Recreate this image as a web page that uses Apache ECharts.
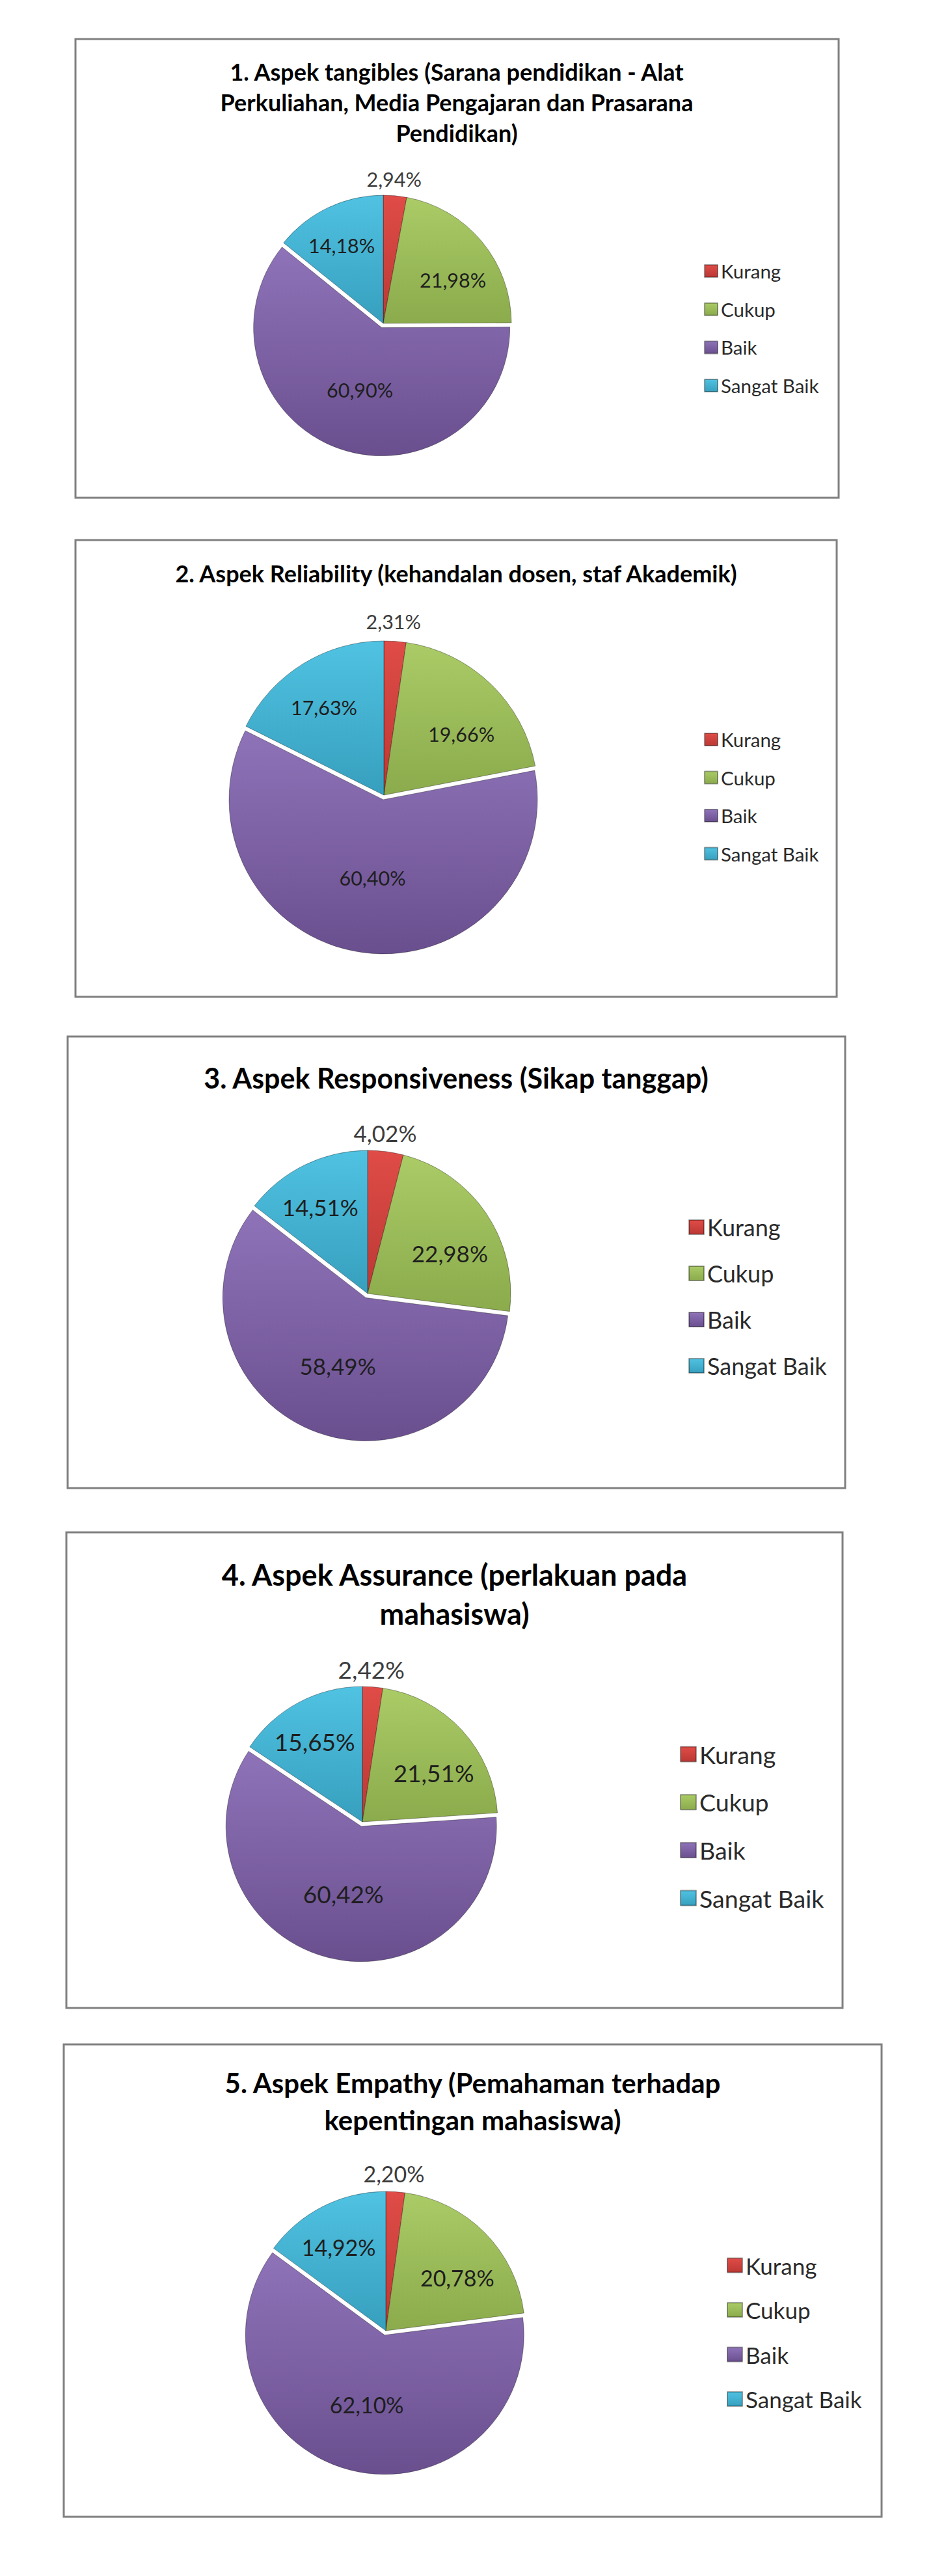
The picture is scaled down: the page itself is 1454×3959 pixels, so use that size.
<!DOCTYPE html>
<html>
<head>
<meta charset="utf-8">
<script src="https://cdn.jsdelivr.net/npm/echarts@6/dist/echarts.min.js"></script>
<style>
  html, body { margin: 0; padding: 0; background: #ffffff; }
  #chart { width: 1454px; height: 3959px; }
</style>
</head>
<body>
<div id="chart"></div>
<script>
// ---------------- DATA ----------------
const categories = ['Kurang', 'Cukup', 'Baik', 'Sangat Baik'];
const aspek1 = [2.94, 21.98, 60.90, 14.18];
const aspek2 = [2.31, 19.66, 60.40, 17.63];
const aspek3 = [4.02, 22.98, 58.49, 14.51];
const aspek4 = [2.42, 21.51, 60.42, 15.65];
const aspek5 = [2.20, 20.78, 62.10, 14.92];
const chartTitles = [
  '1. Aspek tangibles (Sarana pendidikan - Alat\nPerkuliahan, Media Pengajaran dan Prasarana\nPendidikan)',
  '2. Aspek Reliability (kehandalan dosen, staf Akademik)',
  '3. Aspek Responsiveness (Sikap tanggap)',
  '4. Aspek Assurance (perlakuan pada\nmahasiswa)',
  '5. Aspek Empathy (Pemahaman terhadap\nkepentingan mahasiswa)'
];
const allData = [aspek1, aspek2, aspek3, aspek4, aspek5];

// ---------------- LAYOUT / STYLE ----------------
const FONT = 'Lato';
// box: x, y, w, h
const BOXES = [
  [116, 60, 1173, 705],
  [116, 830, 1170, 702],
  [104, 1593, 1195, 694],
  [102, 2355, 1193, 731],
  [98, 3142, 1257, 726]
];
// pie: cx, cy, r
const PIES = [
  [589, 497, 197],
  [590, 1222, 237],
  [565, 1988, 220],
  [557, 2800, 208],
  [593, 3582, 214]
];
// title: cx, cy (block centre), fontSize, lineHeight
const TITLES = [
  [702, 156.5, 36, 47],
  [701, 881, 36, 47],
  [701, 1656.5, 43, 57],
  [698.5, 2450, 45, 60],
  [726.5, 3229.5, 42, 57]
];
// legend: iconLeft, firstCentreY, spacing, fontSize, iconSize
const LEGENDS = [
  [1077, 411.5, 58.7, 29.5, 19],
  [1077, 1131.5, 58.5, 29.5, 19],
  [1053, 1881, 71, 36, 22],
  [1040, 2691, 73.7, 37.5, 23],
  [1112, 3476.5, 68.5, 35, 22]
];
const LABEL_FONT = [30.5, 30.5, 35, 37, 34];
// label placement rule per category: [angle shift (deg), radius ratio]
const LABEL_RULE = [[-1, 1.13], [8, 0.64], [21, 0.61], [-2.5, 0.69]];

const COLORS = [
  ['#e04c47', '#bb3834'],
  ['#aacb66', '#8bab4c'],
  ['#8f73b9', '#6a4f8f'],
  ['#50c2e2', '#379fbe']
];
const EDGE = ['#8c2c29', '#6a8234', '#4e3a6b', '#2b7d96'];

function grad(c) {
  return new echarts.graphic.LinearGradient(0, 0, 0, 1, [
    { offset: 0, color: c[0] },
    { offset: 1, color: c[1] }
  ]);
}
function fmt(v) {
  return v.toFixed(2).replace('.', ',') + '%';
}

const chart = echarts.init(document.getElementById('chart'), null, { renderer: 'svg' });

const graphics = [];
const series = [];
const legends = [];

allData.forEach(function (vals, s) {
  const b = BOXES[s];
  graphics.push({
    type: 'rect',
    shape: { x: b[0], y: b[1], width: b[2], height: b[3] },
    style: { fill: 'none', stroke: '#808080', lineWidth: 3 },
    silent: true
  });
  const t = TITLES[s];
  graphics.push({
    type: 'text',
    x: t[0],
    y: t[1],
    silent: true,
    style: {
      text: chartTitles[s],
      fontFamily: FONT,
      fontWeight: 'bold',
      fontSize: t[2],
      lineHeight: t[3],
      fill: '#000000',
      align: 'center',
      verticalAlign: 'middle'
    }
  });

  const p = PIES[s];
  const total = vals.reduce(function (a, c) { return a + c; }, 0);
  const mids = [];
  let cum = 0;
  vals.forEach(function (v) {
    mids.push((cum + v / 2) / total * 360);
    cum += v;
  });

  series.push({
    type: 'pie',
    center: [p[0], p[1]],
    radius: [0, p[2]],
    startAngle: 90,
    clockwise: true,
    avoidLabelOverlap: false,
    selectedMode: 'multiple',
    selectedOffset: 7,
    animation: false,
    emphasis: { disabled: true },
    select: { itemStyle: { borderColor: 'rgba(0,0,0,0.35)', borderWidth: 1 } },
    label: {
      show: true,
      position: 'inside',
      fontFamily: FONT,
      fontSize: LABEL_FONT[s],
      color: '#1e1e1e',
      formatter: function (d) { return fmt(d.value); }
    },
    labelLine: { show: false },
    labelLayout: function (params) {
      const i = params.dataIndex;
      const rule = LABEL_RULE[i];
      const th = (mids[i] + rule[0]) * Math.PI / 180;
      return {
        x: p[0] + rule[1] * p[2] * Math.sin(th),
        y: p[1] - rule[1] * p[2] * Math.cos(th),
        align: 'center',
        verticalAlign: 'middle'
      };
    },
    data: vals.map(function (v, i) {
      return {
        name: categories[i],
        value: v,
        selected: i === 2,
        itemStyle: {
          color: grad(COLORS[i]),
          borderColor: 'rgba(0,0,0,0.35)',
          borderWidth: 1
        },
        label: i === 0 ? { color: '#3c3c3c' } : {}
      };
    })
  });

  const L = LEGENDS[s];
  const lh = Math.round(L[3] * 1.1);
  legends.push({
    orient: 'vertical',
    left: L[0],
    top: L[1] - lh / 2,
    itemWidth: L[4] + 1,
    itemHeight: L[4],
    itemGap: L[2] - lh,
    itemTextGap: 7,
    icon: 'rect',
    selectedMode: false,
    data: categories,
    textStyle: {
      fontFamily: FONT,
      fontSize: L[3],
      lineHeight: lh,
      color: '#2a2a2a'
    }
  });
});

chart.setOption({
  backgroundColor: '#ffffff',
  animation: false,
  legend: legends,
  series: series,
  graphic: graphics
});
</script>
</body>
</html>
